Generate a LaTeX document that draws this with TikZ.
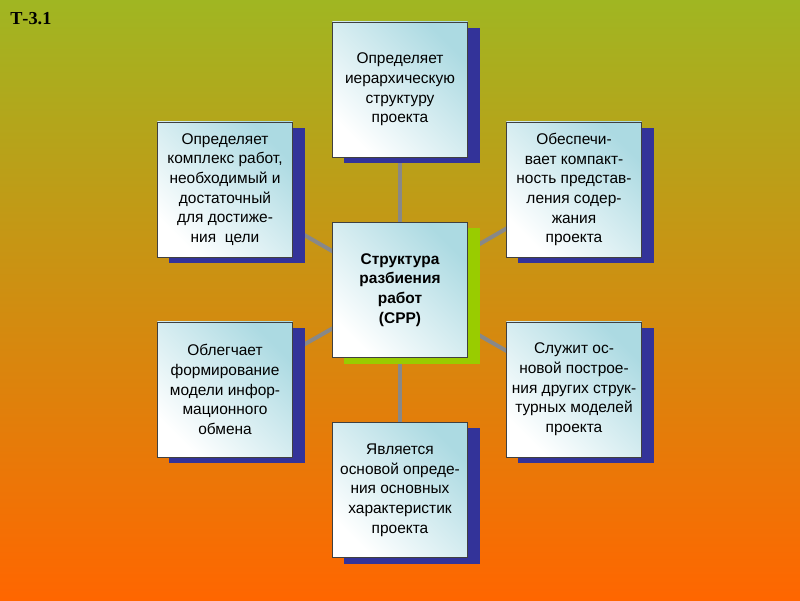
\documentclass[tikz,border=0pt]{standalone}
\usepackage{fontspec}
\setmainfont{Liberation Sans}
\newfontfamily\titlefont{Liberation Serif}
\usepackage{tikz}
\usetikzlibrary{shadows}

\definecolor{bgtop}{RGB}{160,182,34}
\definecolor{bgmid}{RGB}{230,160,24}
\definecolor{bgbot}{RGB}{255,102,0}
\definecolor{cardcyan}{RGB}{172,218,226}
\definecolor{shadenavy}{RGB}{51,51,153}
\definecolor{shadegreen}{RGB}{153,204,0}
\definecolor{linkgray}{RGB}{136,136,136}

\pgfdeclarelayer{bg}
\pgfdeclarelayer{links}
\pgfsetlayers{bg,links,main}

\begin{document}
\begin{tikzpicture}[x=0.025cm, y=-0.025cm, font=\fontsize{11}{14}\selectfont,
  card/.style={draw=black!75, line width=0.6pt, align=center, inner sep=2pt,
    minimum width=3.375cm, minimum height=3.375cm,
    top color=cardcyan, bottom color=white, shading angle=-45,
    general shadow={fill=shadenavy, shadow xshift=0.3cm, shadow yshift=-0.15cm}},
  hub/.style={card, font=\fontsize{11}{14}\selectfont\bfseries,
    general shadow={fill=shadegreen, shadow xshift=0.3cm, shadow yshift=-0.15cm}},
  link/.style={draw=linkgray, line width=0.1cm}]
  \useasboundingbox (0,0) rectangle (800,600);

  % background
  \begin{pgfonlayer}{bg}
    \shade[top color=bgtop, middle color=bgmid, bottom color=bgbot]
      (0,0) rectangle (800,600);
  \end{pgfonlayer}

  \node[anchor=base west, inner sep=0pt, font=\titlefont\fontsize{13}{15}\selectfont\bfseries]
    (title) at (10,24) {Т-3.1};

  % centre
  \node[hub] (srp) at (400,290) {Структура\\разбиения\\работ\\(СРР)};

  % ring of cards
  \node[card] (top) at (400,89.5) {Определяет\\иерархическую\\структуру\\проекта};
  \node[card] (bot) at (400,490) {Является\\основой опреде-\\ния основных\\характеристик\\проекта};
  \node[card] (lt) at (225,189.5) {Определяет\\комплекс работ,\\необходимый и\\достаточный\\для достиже-\\ния\ \ цели};
  \node[card] (rt) at (574,189.5) {Обеспечи-\\вает компакт-\\ность представ-\\ления содер-\\жания\\проекта};
  \node[card] (lb) at (225,389.5) {Облегчает\\формирование\\модели инфор-\\мационного\\обмена};
  \node[card] (rb) at (574,389.5) {Служит ос-\\новой построе-\\ния других струк-\\турных моделей\\проекта};

  % links behind the cards
  \begin{pgfonlayer}{links}
    \foreach \n in {top,bot,lt,rt,lb,rb}
      \draw[link] (srp.center) -- (\n.center);
  \end{pgfonlayer}
\end{tikzpicture}
\end{document}
